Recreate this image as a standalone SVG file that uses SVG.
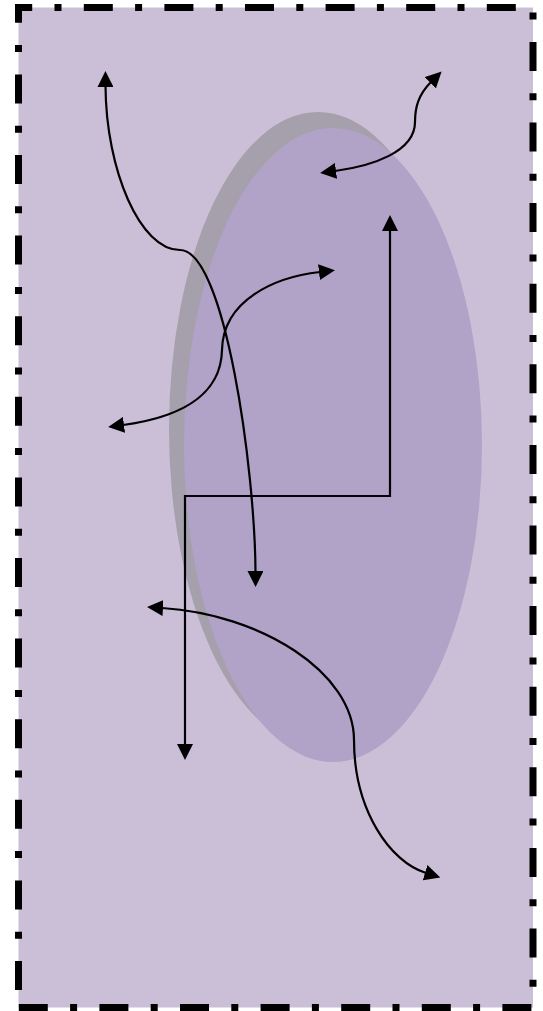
<svg xmlns="http://www.w3.org/2000/svg" width="543" height="1011" viewBox="0 0 543 1011">
  <defs>
    <marker id="arrow" viewBox="0 0 16 16" refX="1" refY="8" markerWidth="16" markerHeight="16" markerUnits="userSpaceOnUse" orient="auto-start-reverse">
      <path d="M0,0 L16,8 L0,16 Z" fill="#000"/>
    </marker>
  </defs>
  <style>
    .frame { fill: #CBBFD8; stroke: #000; stroke-width: 7; stroke-dasharray: 29 22.3 7 22.3; stroke-dashoffset: 63.1; stroke-linejoin: miter; stroke-linecap: butt; }
    .shadow { fill: #A5A0AC; }
    .blob { fill: #B1A2C8; }
    .link { fill: none; stroke: #000; stroke-width: 2.2; marker-start: url(#arrow); marker-end: url(#arrow); }
    .link-one { fill: none; stroke: #000; stroke-width: 2.2; marker-start: url(#arrow); marker-end: url(#arrow); }
  </style>

  <!-- outer dash-dot frame -->
  <g id="frame">
    <path class="frame" d="M18.5,1007.5 V7.5 H533 V1007.5 Z"/>
  </g>

  <!-- central ellipse with offset shadow -->
  <g id="ellipse">
    <ellipse class="shadow" cx="318" cy="429" rx="149" ry="317"/>
    <ellipse class="blob" cx="333" cy="445" rx="149" ry="317"/>
  </g>

  <!-- connectors -->
  <g id="connectors">
    <path class="link" d="M105.5,86 C106,170 140,250 180,250 C225,250 255,470 255.5,572"/>
    <path class="link" d="M431,82 C418,95 415,108 415,122 C415,152 372,166 335,171"/>
    <path class="link" d="M123,425 C175,418 221,398 222,350 C223,300 275,277 320,272"/>
    <path class="link" d="M390,230 V496 H185 V745"/>
    <path class="link" d="M162,608 C260,614 354,672 354,740 C354,810 390,862 426,873"/>
  </g>
</svg>
